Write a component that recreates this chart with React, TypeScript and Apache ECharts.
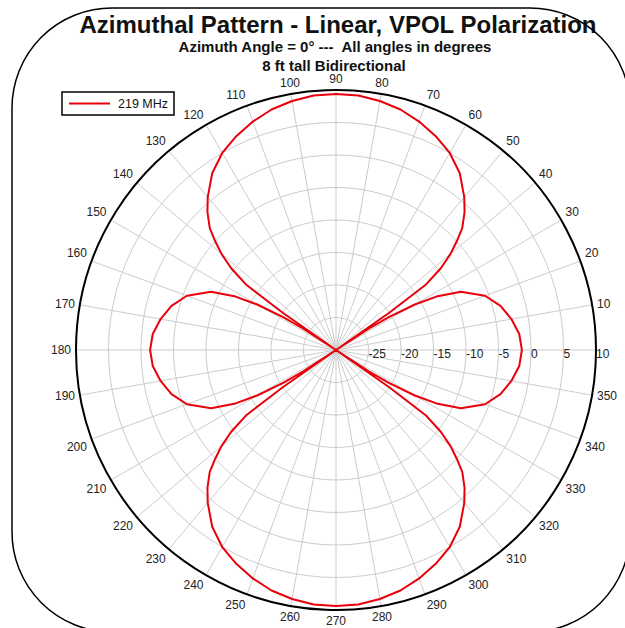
import React, { useEffect, useRef } from 'react';
import * as echarts from 'echarts';

// ---- data ----
const titleText = 'Azimuthal Pattern - Linear, VPOL Polarization';
const subtitle1 = 'Azimuth Angle = 0° ---  All angles in degrees';
const subtitle2 = '8 ft tall Bidirectional';
const seriesName = '219 MHz';

const radiusMin = -30;
const radiusMax = 10;
const radiusStep = 5;
const angleStep = 10;

// azimuth angles (degrees)
const angles = [
  0, 5, 10, 15, 20, 25, 28, 30, 32, 33, 34, 35, 36, 38, 40, 42, 44, 47, 50, 55, 60, 65, 70, 75, 80, 85, 90,
  95, 100, 105, 110, 115, 120, 125, 130, 133, 136, 138, 140, 142, 144, 145, 146, 147, 148, 150, 152, 155, 160, 165, 170, 175, 180,
  185, 190, 195, 200, 205, 208, 210, 212, 213, 214, 215, 216, 218, 220, 222, 224, 227, 230, 235, 240, 245, 250, 255, 260, 265, 270,
  275, 280, 285, 290, 295, 300, 305, 310, 313, 316, 318, 320, 322, 324, 325, 326, 327, 328, 330, 332, 335, 340, 345, 350, 355, 360,
];

// relative gain (dB)
const gains = [
  -1.4, -1.7, -2.6, -3.8, -5.6, -8.8, -12.5, -16, -20.5, -24, -30, -20, -13, -9.5, -7, -5, -3, -1, 0.7, 3.2, 5, 6.3, 7.4, 8.3, 8.9, 9.3, 9.4,
  9.3, 8.9, 8.3, 7.4, 6.3, 5, 3.2, 0.7, -1, -3, -5, -7, -9.5, -13, -20, -30, -24, -20.5, -16, -12.5, -8.8, -5.6, -3.8, -2.6, -1.7, -1.4,
  -1.7, -2.6, -3.8, -5.6, -8.8, -12.5, -16, -20.5, -24, -30, -20, -13, -9.5, -7, -5, -3, -1, 0.7, 3.2, 5, 6.3, 7.4, 8.3, 8.9, 9.3, 9.4,
  9.3, 8.9, 8.3, 7.4, 6.3, 5, 3.2, 0.7, -1, -3, -5, -7, -9.5, -13, -20, -30, -24, -20.5, -16, -12.5, -8.8, -5.6, -3.8, -2.6, -1.7, -1.4,
];

const FONT = '"Liberation Sans", Arial, sans-serif';
const RED = '#e8000b';

export default function App() {
  const ref = useRef<HTMLDivElement>(null);

  useEffect(() => {
    if (!ref.current) return;
    const chart = echarts.init(ref.current, undefined, { renderer: 'svg' });
    const data = angles.map((a, i) => [gains[i], a]);

    chart.setOption({
      animation: false,
      backgroundColor: '#ffffff',
      textStyle: { fontFamily: FONT },
      polar: { center: [336, 350], radius: 260 },
      angleAxis: {
        type: 'value',
        min: 0,
        max: 360,
        interval: angleStep,
        startAngle: 0,
        clockwise: false,
        axisLine: { show: true, lineStyle: { color: '#000', width: 2 } },
        axisTick: { show: false },
        axisLabel: {
          margin: 5,
          color: '#222',
          fontSize: 12,
          fontFamily: FONT,
          formatter: (v: number) => (v === 0 ? '' : String(v)),
        },
        splitLine: { show: true, lineStyle: { color: '#cccccc', width: 1 } },
      },
      radiusAxis: {
        type: 'value',
        min: radiusMin,
        max: radiusMax,
        interval: radiusStep,
        axisLine: { show: false },
        axisTick: { show: false },
        axisLabel: {
          color: '#222',
          fontSize: 12,
          fontFamily: FONT,
          align: 'left',
          verticalAlign: 'top',
          margin: 2,
          formatter: (v: number) => (v === radiusMin ? '' : String(v)),
        },
        splitLine: { show: true, lineStyle: { color: '#cccccc', width: 1 } },
      },
      legend: {
        left: 62,
        top: 92,
        orient: 'horizontal',
        icon: 'rect',
        itemWidth: 41,
        itemHeight: 2,
        borderColor: '#000',
        borderWidth: 1.5,
        borderRadius: 0,
        padding: [5, 6, 5, 7],
        textStyle: { fontSize: 12.5, color: '#111', fontFamily: FONT, padding: [0, 0, 0, 3] },
        data: [seriesName],
      },
      series: [
        {
          type: 'line',
          name: seriesName,
          coordinateSystem: 'polar',
          data,
          symbol: 'none',
          showSymbol: false,
          smooth: false,
          lineStyle: { color: RED, width: 2 },
          itemStyle: { color: RED },
          z: 5,
        },
      ],
      graphic: [
        {
          type: 'text',
          x: 338,
          y: 24,
          style: {
            text: titleText,
            fill: '#111',
            font: `bold 24px ${FONT}`,
            textAlign: 'center',
            textVerticalAlign: 'middle',
          },
        },
        {
          type: 'text',
          x: 335,
          y: 46,
          style: {
            text: subtitle1,
            fill: '#111',
            font: `bold 15px ${FONT}`,
            textAlign: 'center',
            textVerticalAlign: 'middle',
          },
        },
        {
          type: 'text',
          x: 334,
          y: 65,
          style: {
            text: subtitle2,
            fill: '#111',
            font: `bold 15px ${FONT}`,
            textAlign: 'center',
            textVerticalAlign: 'middle',
          },
        },
        {
          type: 'rect',
          shape: { x: 12, y: 8, width: 618, height: 624, r: 100 },
          style: { fill: 'none', stroke: '#000', lineWidth: 1.5 },
          z: 20,
        },
      ],
    });

    return () => chart.dispose();
  }, []);

  return (
    <div
      ref={ref}
      style={{ position: 'absolute', left: 0, top: 0, width: 625, height: 628 }}
    />
  );
}
